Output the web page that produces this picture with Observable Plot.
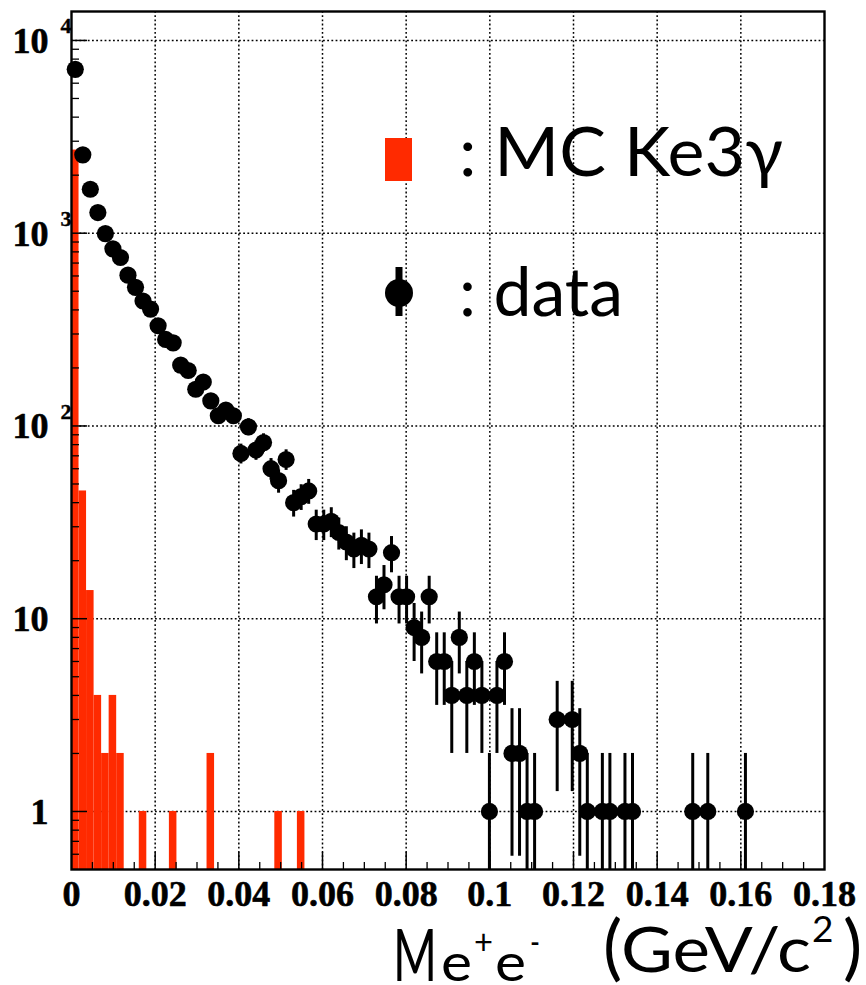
<!DOCTYPE html>
<html><head><meta charset="utf-8">
<script src="https://cdn.jsdelivr.net/npm/d3@7"></script>
<script src="https://cdn.jsdelivr.net/npm/@observablehq/plot@0.6"></script>
<style>
body{margin:0;background:#fff;}
#wrap{position:relative;width:866px;height:985px;background:#fff;}
#wrap svg{display:block;}
#legend{position:absolute;left:0;top:0;pointer-events:none;}
</style></head><body><div id="wrap"></div>
<script>
// histogram bin width (GeV/c^2), 100 bins over 0..0.18
const binWidth = 0.0018;

// data: bin index and counts
const dataBins   = [0,1,2,3,4,5,6,7,8,9,10,11,12,13,14,15,16,17,18,19,20,21,22,23,24,25,26,27,28,29,30,31,32,33,34,35,36,37,38,39,40,41,42,43,44,45,46,47,48,49,50,51,52,53,54,55,56,57,58,59,60,61,64,66,67,68,70,71,73,74,82,84,89];
const dataCounts = [7080,2550,1690,1280,995,830,748,606,524,445,404,331,281,270,207,194,155,169,135,113,121,113,72,99,75,82,60,52,67,40,43,46,31,31,32,28,25,23,24,23,13,15,22,13,13,9,8,13,6,6,4,8,4,6,4,1,4,6,2,2,1,1,3,3,2,1,1,1,1,1,1,1,1];

// MC Ke3gamma: bin index and counts
const mcBins   = [0,1,2,3,4,5,6,9,13,18,27,30];
const mcCounts = [2700,46,14,4,2,4,2,1,1,2,1,1];

// axis ticks
const xTickValues = [0,0.02,0.04,0.06,0.08,0.10,0.12,0.14,0.16,0.18];
const xTickLabels = ["0","0.02","0.04","0.06","0.08","0.1","0.12","0.14","0.16","0.18"];
const xGridValues = [0.02,0.04,0.06,0.08,0.10,0.12,0.14,0.16];
const xMinorValues = [0.005,0.01,0.015,0.025,0.03,0.035,0.045,0.05,0.055,0.065,0.07,0.075,0.085,0.09,0.095,0.105,0.11,0.115,0.125,0.13,0.135,0.145,0.15,0.155,0.165,0.17,0.175];
const yDecades = [1,10,100,1000,10000];
const yDecadeLabels = ["1","10","10","10","10"];
const yExpValues = [100,1000,10000];
const yExpLabels = ["2","3","4"];
const yMinorValues = [0.6,0.7,0.8,0.9,2,3,4,5,6,7,8,9,20,30,40,50,60,70,80,90,200,300,400,500,600,700,800,900,2000,3000,4000,5000,6000,7000,8000,9000];
const yDomain = [0.5, 14130];

const W = 866, H = 912;
const mL = 71, mR = 42, mT = 11, mB = 43;
const plotW = W - mL - mR, plotH = H - mT - mB;
const red = "#ff2a00";

const data = dataBins.map((b, i) => ({x: (b + 0.5) * binWidth, v: dataCounts[i]}));
const mc = mcBins.map((b, i) => ({x1: b * binWidth, x2: (b + 1) * binWidth, v: mcCounts[i]}));
const xTicks = xTickValues.map((v, i) => ({v, label: xTickLabels[i]}));
const yTicks = yDecades.map((v, i) => ({v, label: yDecadeLabels[i]}));
const yExps = yExpValues.map((v, i) => ({v, label: yExpLabels[i]}));
const serif = "'Liberation Serif', 'Times New Roman', serif";
const labelStyle = {fontWeight: "bold", fontFamily: serif, fill: "black", stroke: "black", strokeWidth: 0.6};
const gridStyle = {stroke: "black", strokeWidth: 1.5, strokeDasharray: "1.8,2.4"};

const chart = Plot.plot({
  width: W, height: H,
  marginLeft: mL, marginRight: mR, marginTop: mT, marginBottom: mB,
  x: {domain: [0, 0.18], axis: null},
  y: {type: "log", domain: yDomain, axis: null},
  style: {background: "white", overflow: "visible"},
  marks: [
    Plot.ruleX(xGridValues, gridStyle),
    Plot.ruleY(yDecades, gridStyle),
    Plot.rectY(mc, {x1: "x1", x2: "x2", y1: yDomain[0], y2: "v", fill: red}),
    Plot.ruleX(data, {x: "x", y1: d => Math.max(d.v - Math.sqrt(d.v), yDomain[0]), y2: d => d.v + Math.sqrt(d.v), stroke: "black", strokeWidth: 3, clip: true}),
    Plot.dot(data, {x: "x", y: "v", r: 8.6, fill: "black"}),
    Plot.tickX(xGridValues, {stroke: "black", strokeWidth: 1.5, insetTop: plotH - 17}),
    Plot.tickX(xMinorValues, {stroke: "black", strokeWidth: 1.3, insetTop: plotH - 7}),
    Plot.tickY(yDecades, {stroke: "black", strokeWidth: 1.5, insetRight: plotW - 16}),
    Plot.tickY(yMinorValues.filter(v => v > yDomain[0] && v < yDomain[1]), {stroke: "black", strokeWidth: 1.3, insetRight: plotW - 8}),
    Plot.frame({stroke: "black", strokeWidth: 2.4}),
    Plot.text(xTicks, {x: "v", text: "label", frameAnchor: "bottom", lineAnchor: "top", dy: 10.5, fontSize: 36, ...labelStyle}),
    Plot.text(yTicks, {y: "v", text: "label", frameAnchor: "left", textAnchor: "end", dx: -23, dy: 1, fontSize: 36, ...labelStyle}),
    Plot.text(yExps, {y: "v", text: "label", frameAnchor: "left", textAnchor: "start", dx: -11, dy: -14, fontSize: 22, ...labelStyle, strokeWidth: 0.4})
  ]
});

const wrap = document.getElementById("wrap");
wrap.appendChild(chart);

// Legend overlay (inside plot frame)
const ns = "http://www.w3.org/2000/svg";
const sans = "Lato, 'Open Sans', sans-serif";
const leg = document.createElementNS(ns, "svg");
leg.setAttribute("id", "legend");
leg.setAttribute("width", W); leg.setAttribute("height", H);
leg.innerHTML = `
  <rect x="385" y="138" width="27" height="43" fill="${red}"/>
  <text x="459" y="176" font-family="${sans}" font-size="68" fill="black" textLength="324" lengthAdjust="spacingAndGlyphs">: MC Ke3γ</text>
  <line x1="399" x2="399" y1="267" y2="316" stroke="black" stroke-width="7"/>
  <circle cx="399" cy="293" r="14" fill="black"/>
  <text x="459" y="316" font-family="${sans}" font-size="68" fill="black">: data</text>
`;
wrap.appendChild(leg);

// Axis title below the SVG
const title = document.createElementNS(ns, "svg");
title.setAttribute("width", W); title.setAttribute("height", 985 - H);
title.innerHTML = `
  <text x="393" y="69" font-family="${sans}" font-size="72" fill="black" textLength="44" lengthAdjust="spacingAndGlyphs">M</text>
  <text x="441" y="69" font-family="${sans}" font-size="53" fill="black" textLength="31" lengthAdjust="spacingAndGlyphs">e</text>
  <text x="474" y="42" font-family="${sans}" font-size="34" fill="black" textLength="19" lengthAdjust="spacingAndGlyphs">+</text>
  <text x="495" y="69" font-family="${sans}" font-size="53" fill="black" textLength="31" lengthAdjust="spacingAndGlyphs">e</text>
  <text x="530" y="42" font-family="${sans}" font-size="34" fill="black" textLength="10" lengthAdjust="spacingAndGlyphs">-</text>
  <text x="603" y="60" font-family="${sans}" font-size="72" fill="black">(</text>
  <text x="621" y="60" font-family="${sans}" font-size="62" fill="black" textLength="190" lengthAdjust="spacingAndGlyphs">GeV/c</text>
  <text x="812" y="30" font-family="${sans}" font-size="37" fill="black">2</text>
  <text x="843" y="60" font-family="${sans}" font-size="72" fill="black">)</text>
`;
wrap.appendChild(title);
</script></body></html>
